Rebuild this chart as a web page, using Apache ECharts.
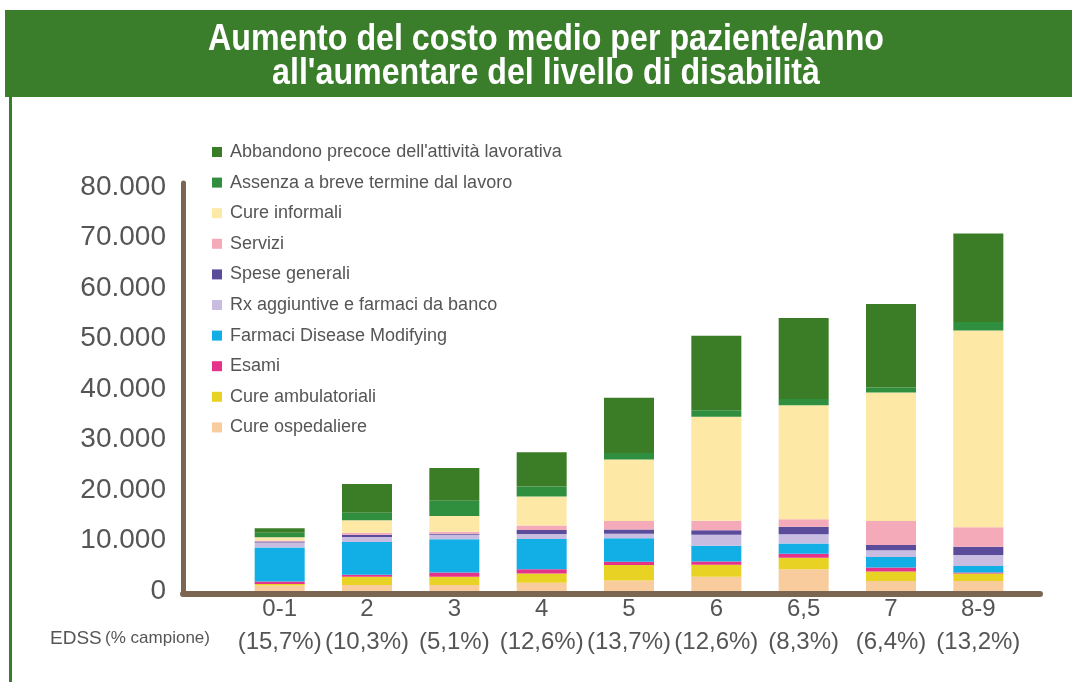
<!DOCTYPE html>
<html>
<head>
<meta charset="utf-8">
<script src="https://cdn.jsdelivr.net/npm/echarts@6/dist/echarts.min.js"></script>
<style>
  html, body { margin: 0; padding: 0; background: #fff; }
  #chart { width: 1072px; height: 682px; }
</style>
</head>
<body>
<div id="chart"></div>
<script>
// EDSS levels and share of the sample
var categories = ['0-1', '2', '3', '4', '5', '6', '6,5', '7', '8-9'];
var samplePct = ['(15,7%)', '(10,3%)', '(5,1%)', '(12,6%)', '(13,7%)', '(12,6%)', '(8,3%)', '(6,4%)', '(13,2%)'];

// cost components, bottom to top of the stack (euro per patient / year)
var cureOspedaliere   = [1100, 1200, 1200, 1650, 2100, 2800, 4300, 2000, 2000];
var cureAmbulatoriali = [300, 1600, 1600, 1800, 3050, 2400, 2300, 1850, 1450];
var esami             = [500, 400, 850, 850, 650, 650, 800, 800, 200];
var farmaciDM         = [6700, 6500, 6600, 6000, 4650, 3100, 2000, 2100, 1300];
var rxAggiuntive      = [1000, 1000, 900, 1000, 900, 2200, 1850, 1300, 2200];
var speseGenerali     = [200, 450, 200, 800, 850, 900, 1450, 1050, 1600];
var servizi           = [200, 400, 400, 850, 1650, 1850, 1500, 4750, 3850];
var cureInformali     = [650, 2450, 3100, 5750, 12200, 20600, 22600, 25450, 39000];
var assenzaBreve      = [900, 1500, 3000, 2000, 1300, 1300, 1200, 1000, 1650];
var abbandono         = [900, 5700, 6500, 6800, 10900, 14750, 16050, 16550, 17550];

var yTicks = [0, 10000, 20000, 30000, 40000, 50000, 60000, 70000, 80000];

var font = "'Liberation Sans', Arial, sans-serif";
var green = '#3a7d2a';
var axisBrown = '#7b6651';
var grey = '#555';

var seriesDefs = [
  ['Cure ospedaliere', cureOspedaliere, '#f9cc9d'],
  ['Cure ambulatoriali', cureAmbulatoriali, '#e8d223'],
  ['Esami', esami, '#e5338a'],
  ['Farmaci Disease Modifying', farmaciDM, '#12aee6'],
  ['Rx aggiuntive e farmaci da banco', rxAggiuntive, '#c8bde0'],
  ['Spese generali', speseGenerali, '#5a4b9b'],
  ['Servizi', servizi, '#f4aab8'],
  ['Cure informali', cureInformali, '#fde8a6'],
  ['Assenza a breve termine dal lavoro', assenzaBreve, '#2f8f3f'],
  ["Abbandono precoce dell'attività lavorativa", abbandono, '#3b7d27']
];

var series = seriesDefs.map(function (d) {
  return {
    name: d[0],
    type: 'bar',
    stack: 'costi',
    xAxisIndex: 0,
    yAxisIndex: 0,
    barWidth: 50,
    data: d[1],
    itemStyle: { color: d[2] }
  };
});

var chart = echarts.init(document.getElementById('chart'));
chart.setOption({
  animation: false,
  backgroundColor: '#fff',
  graphic: [
    { type: 'rect', z: -1, shape: { x: 5, y: 10, width: 1067, height: 87 }, style: { fill: green } },
    { type: 'rect', z: -1, shape: { x: 9, y: 97, width: 3, height: 585 }, style: { fill: green } },
    {
      // condensed-looking title: bold sans squeezed horizontally
      type: 'text', x: 546, y: 57, scaleX: 0.87, originX: 0, originY: 0,
      style: {
        text: "Aumento del costo medio per paziente/anno\nall'aumentare del livello di disabilità",
        fill: '#fff',
        font: 'bold 37px ' + font,
        lineHeight: 34,
        align: 'center',
        verticalAlign: 'middle'
      }
    },
    {
      type: 'text', left: 50, top: 629,
      style: {
        text: '{a|EDSS} {b|(% campione)}',
        rich: {
          a: { fontSize: 19, fill: grey, fontFamily: font },
          b: { fontSize: 17, fill: grey, fontFamily: font }
        }
      }
    }
  ],
  legend: {
    orient: 'vertical',
    left: 212,
    top: 143,
    padding: 0,
    icon: 'rect',
    itemWidth: 10,
    itemHeight: 10,
    itemGap: 12.6,
    data: seriesDefs.map(function (d) { return d[0]; }).reverse(),
    textStyle: { fontSize: 18, color: grey, fontFamily: font, padding: [0, 0, 0, 3] }
  },
  grid: [
    { left: 236, width: 786, top: 187, bottom: 91 },
    { left: 183, right: 32, top: 183, bottom: 88 }
  ],
  xAxis: [
    {
      type: 'category',
      gridIndex: 0,
      data: categories,
      axisLine: { show: false },
      axisTick: { show: false },
      axisLabel: {
        interval: 0,
        margin: 2,
        fontSize: 24,
        lineHeight: 33,
        color: grey,
        fontFamily: font,
        formatter: function (v, i) { return v + '\n' + samplePct[i]; }
      }
    },
    {
      type: 'value',
      gridIndex: 1,
      axisLine: { show: true, lineStyle: { color: axisBrown, width: 6 } },
      axisTick: { show: false },
      axisLabel: { show: false },
      splitLine: { show: false }
    }
  ],
  yAxis: [
    {
      type: 'value',
      gridIndex: 0,
      min: yTicks[0],
      max: yTicks[yTicks.length - 1],
      interval: yTicks[1] - yTicks[0],
      axisLine: { show: false },
      axisTick: { show: false },
      splitLine: { show: false },
      axisLabel: {
        margin: 70,
        fontSize: 28,
        color: grey,
        fontFamily: font,
        formatter: function (v) { return v === 0 ? '0' : (v / 1000) + '.000'; }
      }
    },
    {
      type: 'value',
      gridIndex: 1,
      axisLine: { show: true, lineStyle: { color: axisBrown, width: 5 } },
      axisTick: { show: false },
      axisLabel: { show: false },
      splitLine: { show: false }
    }
  ],
  series: series
});
</script>
</body>
</html>
